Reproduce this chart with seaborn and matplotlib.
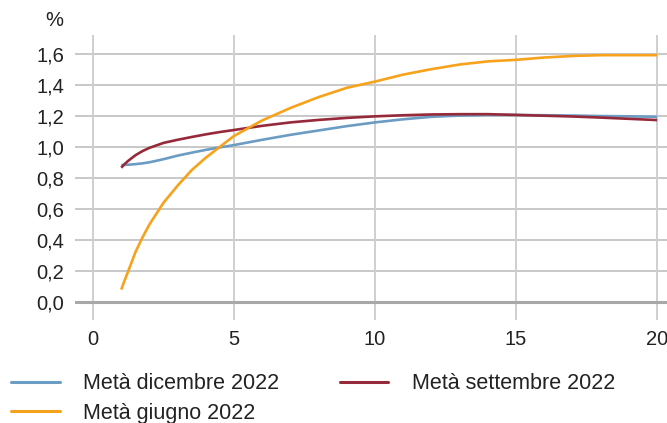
import numpy as np
import pandas as pd
import seaborn as sns
import matplotlib.pyplot as plt
from matplotlib.lines import Line2D

# maturities (years) and yield curves
anni = [1, 1.1, 1.25, 1.5, 1.75, 2, 2.5, 3, 3.5, 4, 4.5, 5, 6, 7, 8, 9, 10,
        11, 12, 13, 14, 15, 16, 17, 18, 19, 20]
dicembre = [0.882, 0.883, 0.884, 0.888, 0.893, 0.900, 0.920, 0.943, 0.962, 0.980,
            0.996, 1.011, 1.045, 1.077, 1.105, 1.133, 1.157, 1.177, 1.193, 1.201,
            1.205, 1.205, 1.203, 1.201, 1.198, 1.196, 1.193]
giugno = [0.08, 0.13, 0.20, 0.32, 0.415, 0.50, 0.64, 0.75, 0.85, 0.93, 1.00, 1.07,
          1.17, 1.25, 1.32, 1.38, 1.42, 1.465, 1.50, 1.53, 1.55, 1.56,
          1.575, 1.585, 1.59, 1.59, 1.59]
settembre = [0.865, 0.885, 0.91, 0.945, 0.972, 0.993, 1.025, 1.045, 1.063, 1.08,
             1.095, 1.108, 1.135, 1.157, 1.173, 1.186, 1.196, 1.203, 1.208, 1.21,
             1.21, 1.205, 1.20, 1.195, 1.188, 1.18, 1.172]

serie = ['Metà dicembre 2022', 'Metà giugno 2022', 'Metà settembre 2022']
colori = ['#6a9cc4', '#f7a21b', '#962a3a']
x_ticks = [0, 5, 10, 15, 20]
y_ticks = [0.0, 0.2, 0.4, 0.6, 0.8, 1.0, 1.2, 1.4, 1.6]

df = pd.concat([
    pd.DataFrame({'anni': anni, 'valore': v, 'serie': s})
    for s, v in zip(serie, [dicembre, giugno, settembre])
])

sns.set_style('white')
plt.rcParams['font.family'] = ['Liberation Sans', 'DejaVu Sans']

fig = plt.figure(figsize=(6.67, 4.23), dpi=100)
ax = fig.add_axes([75 / 667, 1 - 320 / 423, 592 / 667, 285 / 423])

sns.lineplot(data=df, x='anni', y='valore', hue='serie', hue_order=serie,
             palette=colori, linewidth=1.9, sort=False, ax=ax, legend=False)
for line, z in zip(ax.lines, [3, 5, 4]):
    line.set_zorder(z)
    line.set_solid_capstyle('butt')
    line.set_solid_joinstyle('round')

ax.set_xlim(-0.64, 20.35)
ax.set_ylim(-0.116, 1.72)
ax.set_xticks(x_ticks)
ax.set_xticklabels([str(t) for t in x_ticks])
ax.set_yticks(y_ticks)
ax.set_yticklabels([f'{t:.1f}'.replace('.', ',') for t in y_ticks])
ax.tick_params(length=0, labelsize=14.5, colors='#222222')
ax.tick_params(axis='y', pad=8)
ax.tick_params(axis='x', pad=7)

for t in y_ticks[1:]:
    ax.axhline(t, color='#b9b9b9', lw=1.1, zorder=1)
for t in x_ticks:
    ax.axvline(t, color='#cfcfcf', lw=1.4, zorder=1)
ax.axhline(0, color='#a8a8a8', lw=2.2, zorder=2)

for s in ax.spines.values():
    s.set_visible(False)
ax.set_xlabel('')
ax.set_ylabel('')

fig.text(54 / 667, 1 - 20 / 423, '%', fontsize=14.5, color='#222222',
         ha='center', va='center')

handles = [Line2D([], [], color=c, lw=2.2) for c in colori]
fig.legend(handles, serie, loc='upper left', bbox_to_anchor=(-0.006, 0.153),
           ncol=2, frameon=False, fontsize=15.5, handlelength=2.25,
           handletextpad=1.1, columnspacing=2.8, labelspacing=0.38,
           labelcolor='#222222', borderaxespad=0.3)

fig.savefig('out.png', dpi=100)
